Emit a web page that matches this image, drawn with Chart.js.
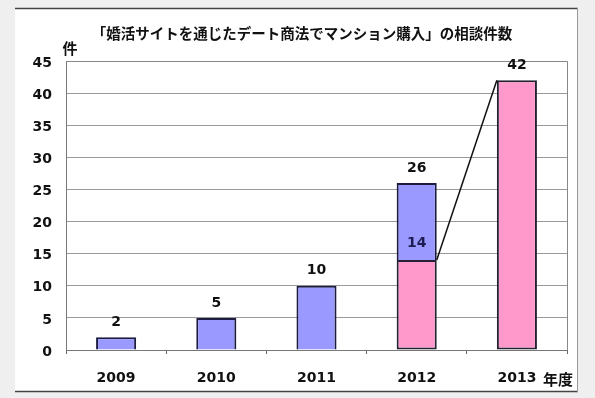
<!DOCTYPE html>
<html>
<head>
<meta charset="utf-8">
<script src="https://cdn.jsdelivr.net/npm/chart.js@4/dist/chart.umd.min.js"></script>
<style>
html,body{margin:0;padding:0;background:#efefef;}
#wrap{width:595px;height:398px;position:relative;}
</style>
</head>
<body>
<div id="wrap"><canvas id="c" width="595" height="398"></canvas></div>
<script>
const years = ['2009', '2010', '2011', '2012', '2013'];
const datingCounts = [null, null, null, 14, 42];   // pink segment
const otherCounts = [2, 5, 10, 12, null];          // blue segment
const yTicks = [0, 5, 10, 15, 20, 25, 30, 35, 40, 45];
const titleText = '「婚活サイトを通じたデート商法でマンション購入」の相談件数';
const yUnit = '件';
const xUnit = '年度';

const CJK = '"Noto Sans CJK JP", "Noto Sans", sans-serif';
const LAT = '"DejaVu Sans", "Liberation Sans", sans-serif';

const panelPlugin = {
  id: 'panel',
  beforeDraw(chart) {
    const ctx = chart.ctx;
    ctx.save();
    ctx.fillStyle = '#efefef';
    ctx.fillRect(0, 0, chart.width, chart.height);
    ctx.fillStyle = '#ffffff';
    ctx.fillRect(15, 8, 563, 384);
    ctx.strokeStyle = '#444';
    ctx.lineWidth = 1.5;
    ctx.beginPath();
    ctx.moveTo(15, 8.5); ctx.lineTo(578, 8.5);
    ctx.moveTo(15, 391.5); ctx.lineTo(578, 391.5);
    ctx.stroke();
    ctx.strokeStyle = '#999';
    ctx.lineWidth = 1;
    ctx.beginPath();
    ctx.moveTo(577.5, 8); ctx.lineTo(577.5, 392);
    ctx.stroke();
    ctx.restore();
  },
  beforeDatasetsDraw(chart) {
    const a = chart.chartArea, ctx = chart.ctx;
    ctx.save();
    ctx.strokeStyle = '#888';
    ctx.lineWidth = 1;
    ctx.beginPath();
    ctx.moveTo(a.left, a.top + 0.5); ctx.lineTo(a.right + 0.5, a.top + 0.5);
    ctx.lineTo(a.right + 0.5, a.bottom);
    ctx.stroke();
    ctx.restore();
  },
  afterDatasetsDraw(chart) {
    const ctx = chart.ctx;
    const pink = chart.getDatasetMeta(0).data;
    const blue = chart.getDatasetMeta(1).data;
    ctx.save();
    // connector line from 2012 pink top-right to 2013 top-left
    const p0 = pink[3], p1 = pink[4];
    ctx.strokeStyle = '#111';
    ctx.lineWidth = 1.5;
    ctx.beginPath();
    ctx.moveTo(p0.x + p0.width / 2, p0.y);
    ctx.lineTo(p1.x - p1.width / 2, p1.y);
    ctx.stroke();
    // value labels
    ctx.font = 'bold 14px ' + LAT;
    ctx.textAlign = 'center';
    ctx.textBaseline = 'middle';
    years.forEach((y, i) => {
      const total = (datingCounts[i] || 0) + (otherCounts[i] || 0);
      const el = otherCounts[i] != null ? blue[i] : pink[i];
      ctx.fillStyle = '#111';
      ctx.fillText(String(total), el.x, el.y - 15);
      if (datingCounts[i] != null && otherCounts[i] != null) {
        ctx.fillStyle = '#1c1c50';
        ctx.fillText(String(datingCounts[i]), pink[i].x, pink[i].y - 17);
      }
    });
    ctx.restore();
  },
  afterDraw(chart) {
    const ctx = chart.ctx;
    ctx.save();
    ctx.fillStyle = '#111';
    ctx.textBaseline = 'middle';
    ctx.textAlign = 'center';
    ctx.font = 'bold 14.5px ' + CJK;
    ctx.fillText(titleText, 302, 33);
    ctx.font = 'bold 15px ' + CJK;
    ctx.fillText(yUnit, 70, 48);
    ctx.fillText(xUnit, 558, 379);
    ctx.restore();
  }
};

new Chart(document.getElementById('c'), {
  type: 'bar',
  data: {
    labels: years,
    datasets: [
      {
        label: 'デート商法',
        data: datingCounts,
        backgroundColor: '#ff99cc',
        borderColor: '#222233',
        borderWidth: 2,
        borderSkipped: false,
        barPercentage: 0.4,
        categoryPercentage: 1.0,
        stack: 's'
      },
      {
        label: 'その他',
        data: otherCounts,
        backgroundColor: '#9999ff',
        borderColor: '#1c1c40',
        borderWidth: 2,
        borderSkipped: 'bottom',
        barPercentage: 0.4,
        categoryPercentage: 1.0,
        stack: 's'
      }
    ]
  },
  options: {
    responsive: false,
    animation: false,
    devicePixelRatio: 1,
    layout: { padding: { top: 61, right: 28, left: 0, bottom: 0 } },
    plugins: {
      legend: { display: false },
      tooltip: { enabled: false },
      title: { display: false }
    },
    scales: {
      x: {
        stacked: true,
        afterFit(s) { s.height = 48; },
        grid: { display: true, drawOnChartArea: false, drawTicks: true, tickLength: 4, color: '#666', offset: true },
        border: { display: true, color: '#777', width: 1 },
        ticks: { color: '#111', font: { family: LAT, size: 14, weight: 'bold' }, padding: 16, maxRotation: 0 }
      },
      y: {
        stacked: true,
        min: 0,
        max: 45,
        afterFit(s) { s.width = 66; },
        afterBuildTicks(s) { s.ticks = yTicks.map(v => ({ value: v })); },
        grid: { color: '#999', lineWidth: 1, drawTicks: false },
        border: { display: true, color: '#777', width: 1 },
        ticks: { color: '#111', font: { family: LAT, size: 14, weight: 'bold' }, padding: 14, labelOffset: 2 }
      }
    }
  },
  plugins: [panelPlugin]
});
</script>
</body>
</html>
